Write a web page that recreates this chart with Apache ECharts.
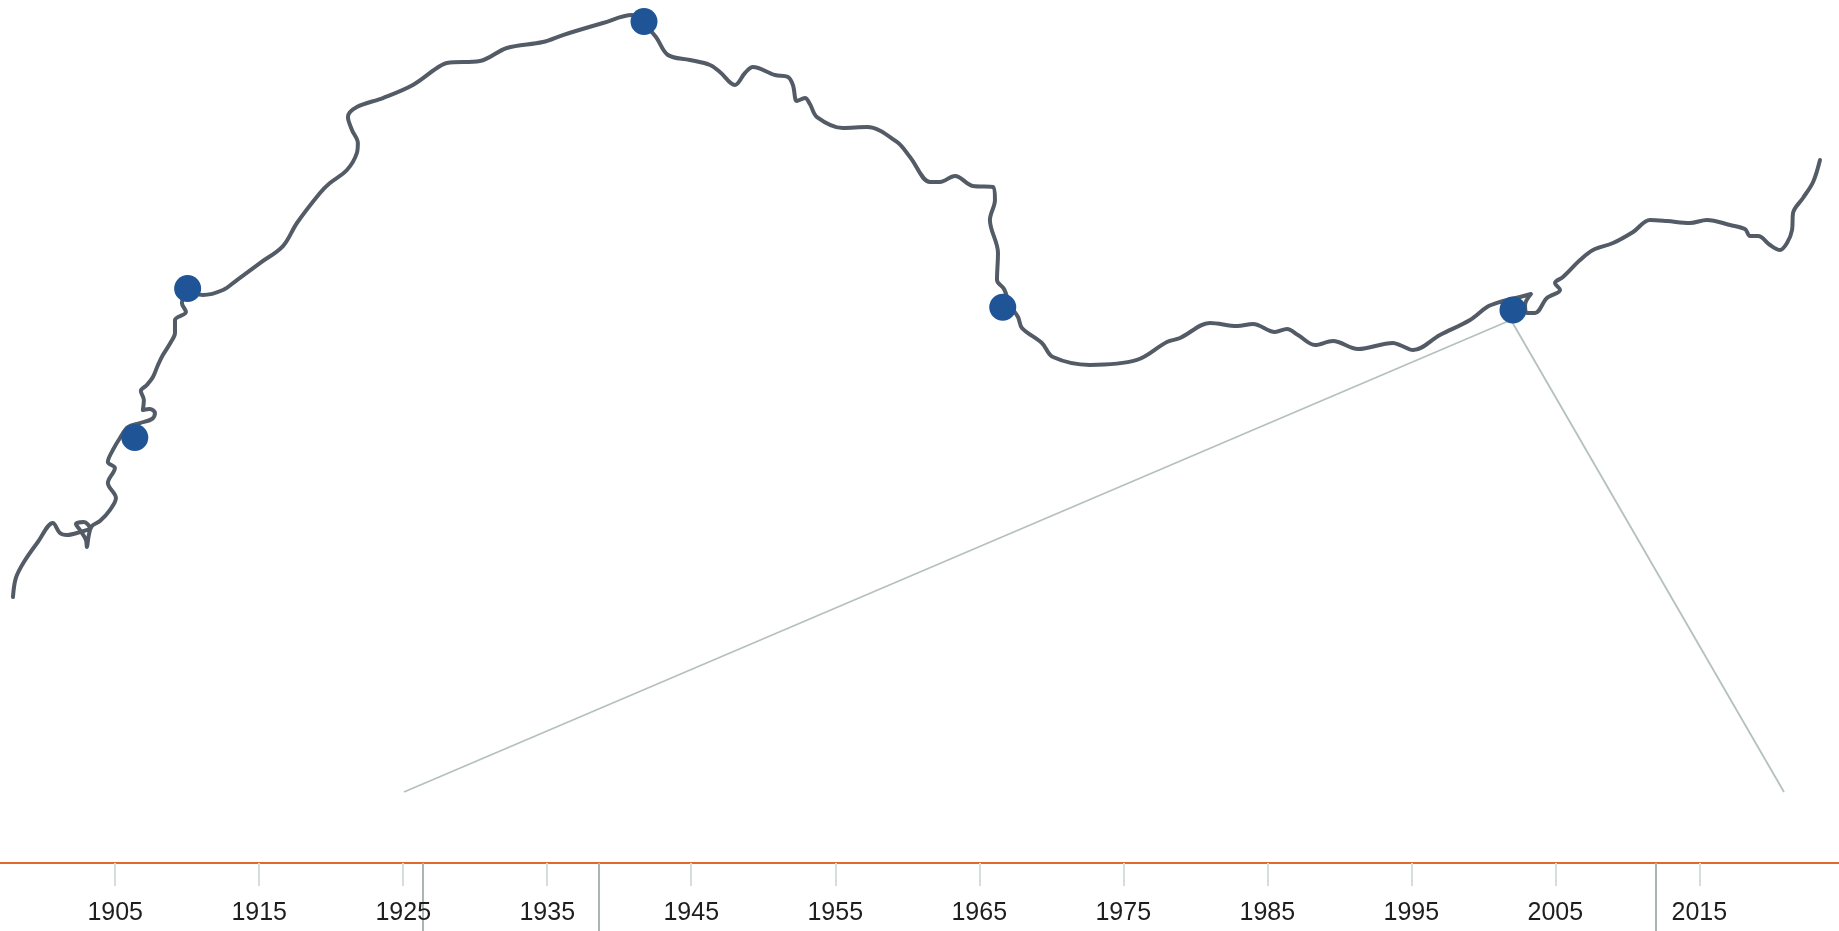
<!DOCTYPE html>
<html>
<head>
<meta charset="utf-8">
<script src="https://cdn.jsdelivr.net/npm/echarts@6/dist/echarts.min.js"></script>
<style>
html,body{margin:0;padding:0;background:#fff;}
#chart{width:1839px;height:931px;}
</style>
</head>
<body>
<div id="chart"></div>
<script>
// Trace of the wandering line: x = year, y = index value (0..100)
const lineYears = [1897.90,1898.10,1898.66,1899.63,1900.67,1901.16,1901.65,1902.55,1903.24,1902.83,1902.27,1902.55,1902.97,1903.03,1903.17,1903.38,1903.94,1904.63,1905.05,1904.49,1904.98,1904.49,1904.84,1905.33,1905.88,1906.72,1907.55,1907.76,1907.41,1906.92,1906.99,1906.78,1907.20,1907.62,1907.97,1908.31,1908.87,1909.15,1909.15,1909.91,1909.63,1910.05,1911.09,1912.48,1913.45,1915.05,1916.65,1917.62,1919.22,1919.91,1921.09,1921.78,1921.85,1921.44,1921.16,1921.78,1923.59,1925.67,1927.34,1928.03,1930.33,1932.20,1934.70,1936.09,1938.87,1940.88,1941.72,1942.55,1943.38,1944.91,1946.30,1946.99,1948.03,1948.73,1949.28,1950.81,1951.72,1952.06,1952.34,1952.90,1953.24,1953.73,1955.53,1957.20,1959.28,1960.19,1961.58,1962.27,1963.31,1964.56,1965.95,1966.09,1965.74,1966.30,1966.23,1966.72,1967.13,1967.69,1967.97,1969.35,1970.12,1972.69,1975.95,1978.03,1978.94,1981.02,1982.90,1984.01,1985.53,1986.37,1987.13,1988.31,1989.56,1991.30,1993.73,1994.22,1995.12,1996.99,1999.08,2000.26,2001.16,2002.55,2003.31,2002.90,2003.03,2003.59,2004.42,2005.33,2004.98,2005.53,2006.72,2007.62,2009.01,2010.40,2011.58,2012.76,2014.35,2015.53,2017.13,2018.17,2018.52,2019.08,2019.91,2020.60,2021.09,2021.44,2021.51,2022.20,2022.90,2023.38];
const lineValues = [30.82,33.02,34.88,37.20,39.40,38.24,38.01,38.35,38.82,39.51,39.28,38.59,37.43,36.62,38.01,39.05,39.63,40.90,42.29,44.03,45.77,46.47,47.86,49.25,50.52,50.98,51.45,52.14,52.61,52.49,53.65,54.69,55.39,56.32,57.71,58.86,60.37,61.41,62.92,63.85,64.89,66.16,65.82,66.40,67.55,69.52,71.49,74.16,77.64,78.79,80.30,82.27,83.43,84.94,86.44,87.60,88.64,90.15,92.12,92.70,92.93,94.44,95.13,95.94,97.33,98.26,97.22,95.71,93.63,93.05,92.47,91.66,90.15,91.54,92.24,91.31,91.08,90.15,88.30,88.64,87.95,86.44,85.17,85.28,83.55,81.81,78.91,78.91,79.61,78.45,78.33,76.83,74.51,70.68,67.55,66.51,64.66,63.27,61.99,60.26,58.63,57.71,58.29,60.37,60.83,62.57,62.22,62.46,61.53,61.88,61.18,60.02,60.49,59.56,60.26,60.02,59.44,61.18,62.92,64.43,65.01,65.59,65.93,64.66,63.73,63.73,65.47,66.40,67.21,67.90,69.87,71.03,71.84,73.12,74.51,74.39,74.16,74.51,73.93,73.46,72.65,72.65,71.61,71.03,71.84,73.35,75.32,77.06,78.91,81.46];

// Highlighted points
const dotYears  = [1906.36,1910.03,1941.72,1966.63,2002.06];
const dotValues = [49.30,66.57,97.51,64.39,64.08];

// Callout lines (two legs meeting at the 2002 point)
const calloutYears  = [1925.05,2001.92,2020.88];
const calloutValues = [8.23,62.92,8.23];

// Axis ticks
const tickYears = [1905,1915,1925,1935,1945,1955,1965,1975,1985,1995,2005,2015];
const markerYears = [1926.35,1938.55,2011.97];

const pairs = (xs, ys) => xs.map((x, i) => [x, ys[i]]);

const chart = echarts.init(document.getElementById('chart'), null, {renderer: 'canvas'});
chart.setOption({
  animation: false,
  backgroundColor: '#ffffff',
  grid: {left: 0, right: 0, top: 0, bottom: 68, containLabel: false},
  xAxis: [{
    type: 'value', min: 1897, max: 2024.7, position: 'bottom',
    splitLine: {show: false},
    axisLine: {show: true, lineStyle: {color: '#e06a2c', width: 2}},
    axisTick: {show: true, customValues: tickYears, length: 23, lineStyle: {color: '#d6dddd', width: 2}},
    axisLabel: {show: true, customValues: tickYears, margin: 38, fontSize: 25,
      fontFamily: 'Liberation Sans', color: '#1e1e1e', formatter: v => String(v)}
  }, {
    type: 'value', min: 1897, max: 2024.7, position: 'bottom',
    splitLine: {show: false},
    axisLine: {show: false},
    axisTick: {show: true, customValues: markerYears, length: 70, lineStyle: {color: '#aab6b6', width: 2}},
    axisLabel: {show: false}
  }],
  yAxis: {type: 'value', min: 0, max: 100, show: false},
  series: [{
    type: 'line',
    data: pairs(calloutYears, calloutValues),
    showSymbol: false,
    lineStyle: {color: '#b5c1bd', width: 1.8},
    silent: true, z: 1
  }, {
    type: 'line',
    data: pairs(lineYears, lineValues),
    showSymbol: false,
    smooth: 0.35,
    lineStyle: {color: '#535b66', width: 4, cap: 'round', join: 'round'},
    silent: true, z: 2
  }, {
    type: 'scatter',
    data: pairs(dotYears, dotValues),
    symbolSize: 27,
    itemStyle: {color: '#1f5597', opacity: 1},
    silent: true, z: 3
  }]
});
</script>
</body>
</html>
